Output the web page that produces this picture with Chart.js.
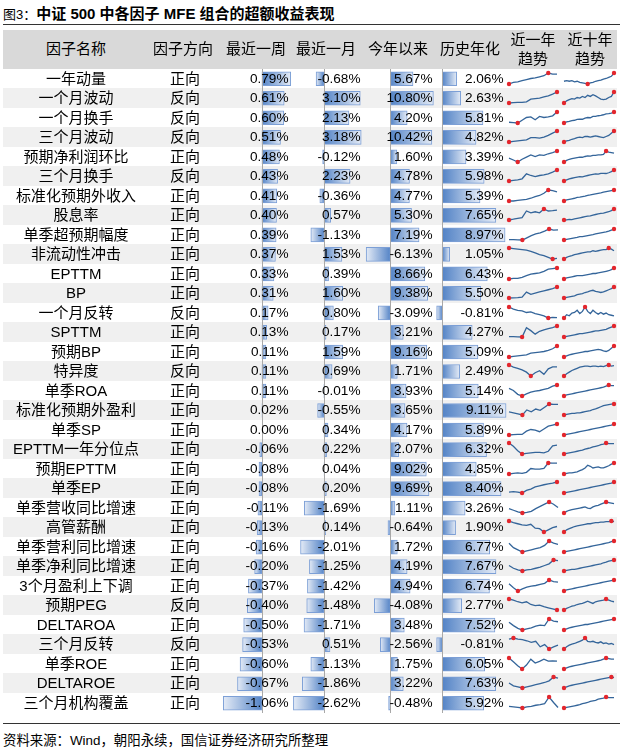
<!DOCTYPE html>
<html>
<head>
<meta charset="utf-8">
<script src="https://cdn.jsdelivr.net/npm/chart.js@4.4.1/dist/chart.umd.min.js"></script>
<style>
    body { margin: 0; width: 623px; height: 751px; position: relative; overflow: hidden; background: #fff;
           font-family: "Liberation Sans", "Noto Sans CJK SC", sans-serif; color: #000; }
    .abs { position: absolute; white-space: nowrap; }
    #title { left: 3px; top: 2px; font-size: 15px; font-weight: bold; }
    #title .no { font-size: 13px; font-weight: normal; }
    .rule { position: absolute; left: 3px; width: 617px; height: 1.5px; background: #333; }
    #header { left: 3px; top: 29.5px; width: 614px; height: 39px; background: #d9d9d9; }
    .hd { font-size: 15px; text-align: center; width: 80px; }
    .cell { font-size: 15px; }
    .num { font-size: 13.6px; text-align: right; width: 70px; }
    canvas { position: absolute; }
    #source { left: 3px; top: 729px; font-size: 13.4px; }
</style>
</head>
<body>
<div id="title" class="abs"><span class="no">图3：</span>中证 500 中各因子 MFE 组合的超额收益表现</div>
<div class="rule" style="top:23.5px"></div>
<div id="header" class="abs"></div>
<div id="rows"></div>
<div class="rule" style="top:722.5px"></div>
<div id="source" class="abs">资料来源：Wind，朝阳永续，国信证券经济研究所整理</div>

<script>
// ---- data ----
const factorNames = ['一年动量', '一个月波动', '一个月换手', '三个月波动', '预期净利润环比', '三个月换手',
    '标准化预期外收入', '股息率', '单季超预期幅度', '非流动性冲击', 'EPTTM', 'BP', '一个月反转', 'SPTTM',
    '预期BP', '特异度', '单季ROA', '标准化预期外盈利', '单季SP', 'EPTTM一年分位点', '预期EPTTM', '单季EP',
    '单季营收同比增速', '高管薪酬', '单季营利同比增速', '单季净利同比增速', '3个月盈利上下调', '预期PEG',
    'DELTAROA', '三个月反转', '单季ROE', 'DELTAROE', '三个月机构覆盖'];
const directions = ['正向', '反向', '反向', '反向', '正向', '反向', '正向', '正向', '正向', '正向', '正向', '正向',
    '反向', '正向', '正向', '反向', '正向', '正向', '正向', '正向', '正向', '正向', '正向', '正向', '正向', '正向',
    '正向', '反向', '正向', '反向', '正向', '正向', '正向'];
const lastWeek = [0.79, 0.61, 0.60, 0.51, 0.48, 0.43, 0.41, 0.40, 0.39, 0.37, 0.33, 0.31, 0.17, 0.13, 0.11, 0.11,
    0.11, 0.02, 0.00, -0.06, -0.08, -0.08, -0.11, -0.13, -0.16, -0.20, -0.37, -0.40, -0.50, -0.53, -0.60, -0.67, -1.06];
const lastMonth = [-0.68, 3.10, 2.13, 3.18, -0.12, 2.23, -0.36, 0.57, -1.13, 1.53, 0.39, 1.60, 0.80, 0.17, 1.59, 0.69,
    -0.01, -0.55, 0.34, 0.22, 0.04, 0.20, -1.69, 0.14, -2.01, -1.25, -1.42, -1.48, -1.71, 0.51, -1.13, -1.86, -2.62];
const yearToDate = [5.67, 10.80, 4.20, 10.42, 1.60, 4.78, 4.77, 5.30, 7.19, -6.13, 8.66, 9.38, -3.09, 3.21, 9.16, 1.71,
    3.93, 3.65, 4.17, 2.07, 9.02, 9.69, 1.11, -0.64, 1.72, 4.19, 4.94, -4.08, 3.48, -2.56, 1.75, 3.22, -0.48];
const annualized = [2.06, 2.63, 5.81, 4.82, 3.39, 5.98, 5.39, 7.65, 8.97, 1.05, 6.43, 5.50, -0.81, 4.27, 5.09, 2.49,
    5.14, 9.11, 5.89, 6.32, 4.85, 8.40, 3.26, 1.90, 6.77, 7.67, 6.74, 2.77, 7.52, -0.81, 6.05, 7.63, 5.92];

// sparkline shapes (relative levels)
const trendOneYear = [
    [0, 1.5, 2, 3, 4, 5, 5.5, 6.5, 7.5, 10, 9, 9],
    [0, 0.3, 0.5, 0.5, 1, 3.5, 4, 4.5, 5.5, 6.5, 8, 10],
    [0.7, 0.4, 0, 2.5, 5, 5.5, 3, 6, 5, 5.5, 6.5, 10],
    [0, 0.5, 1, 1.5, 2, 4, 4, 3.5, 4.5, 6, 8, 10],
    [3.6, 1.8, 0, 2.5, 4.5, 6.4, 5, 6.5, 6, 7.5, 8.5, 10],
    [0, 0.5, 1, 2, 6.5, 5, 4, 5, 5.5, 6.5, 8, 10],
    [0, 0, 0.5, 1, 1.5, 2.5, 4, 5, 7, 10, 9.5, 8.3],
    [0, 0.7, 1.5, 2.1, 8.2, 6.5, 7.5, 6.5, 10, 8.2, 8.5, 9],
    [0.3, 0.3, 0.2, 0, 2, 4, 5.5, 6.5, 8, 10, 9, 9.2],
    [10, 9.5, 9, 8.5, 8, 7, 5.5, 4, 3, 1.5, 0, 0.5],
    [0, 0.5, 0.5, 1.5, 3, 4.5, 5, 5.5, 7, 9, 9.5, 10],
    [0, 0.2, 0.4, 0.7, 5.3, 3.3, 4.5, 5.5, 6.5, 7.5, 8.5, 10],
    [10, 8, 7, 6.5, 5, 5.5, 4, 3, 2, 0, 0.5, 0.3],
    [0.3, 0.3, 0.2, 0, 8.4, 5.8, 2.6, 5.2, 6.5, 7.7, 8.5, 10],
    [0, 0.5, 1, 1.5, 2, 3.5, 4, 4.5, 5, 6, 7.5, 10],
    [10, 8, 7, 5.5, 3.5, 0, 3, 4.8, 1.5, 6.5, 8.3, 8.3],
    [7, 5, 1.5, 0, 2, 3.5, 4.5, 5, 6, 7, 9, 10],
    [2.8, 2, 1, 0, 4.6, 2.9, 5.4, 4.3, 7.1, 10, 9.6, 9.6],
    [0, 0.4, 0.6, 0.5, 3.5, 5, 4.5, 3, 5.5, 8, 9, 10],
    [10, 7, 3, 0, 0.5, 1, 1.5, 1.5, 1, 2.5, 7.5, 8],
    [0, 0.5, 1, 0.5, 1.5, 5, 4.5, 4.5, 5, 10, 9.8, 9.8],
    [0.7, 1.2, 0.8, 0, 2.4, 3.5, 5.5, 6.5, 7.5, 8.3, 9, 10],
    [4, 2.5, 1, 0, 0.5, 1.5, 4, 6, 8, 10, 8, 5],
    [10, 8.5, 7.5, 6.5, 6, 7, 3.5, 3, 0, 2, 4, 5],
    [8, 4, 2, 0, 1, 2, 3, 4, 6, 10, 8, 7],
    [5, 2.5, 1, 0, 1, 1.5, 2.5, 3.5, 5, 6.5, 10, 9.5],
    [6.5, 3, 0, 2, 3.5, 4.5, 5, 6, 7, 10, 8.5, 8],
    [10, 9, 7.5, 6.5, 7.5, 5, 4, 4.5, 3, 2, 1, 0],
    [7, 4, 1.5, 0, 1, 2, 3.5, 4.5, 4, 10, 8, 7.5],
    [9, 10, 9, 8.5, 7.5, 6, 7, 2, 4, 0, 2, 3.5],
    [10, 6.5, 3, 0, 3.6, 8.9, 5.4, 7, 8.9, 7.1, 7.3, 7.1],
    [4.5, 2, 1, 0, 1, 2, 3, 4, 5, 6.5, 10, 9],
    [1.5, 1, 0.5, 0, 1, 1.5, 2.5, 3, 4, 10, 5, 0.5]
];
const trendTenYear = [
    [2.5, 3, 2.5, 3, 2, 2.5, 1.5, 1, 0.5, 0, 1, 1.5, 2.5, 3, 3.5, 4.5, 5, 6, 7, 10],
    [0, 2, 3, 4, 3.5, 5, 4.5, 6, 5, 7, 6, 7.5, 6.5, 5, 3.5, 3, 3.5, 5, 6, 10],
    [0, 1, 1.5, 2.2, 2.5, 3.2, 3.5, 3.4, 4.5, 5, 4.8, 6, 6, 6.6, 7, 7.5, 8.2, 8.5, 9, 10],
    [0, 1, 1.5, 2.5, 3, 4, 4.5, 4, 5, 5, 4.5, 5, 5.5, 5, 4.5, 4, 5, 6, 8, 10],
    [0, 1.5, 2.5, 3, 3.5, 4, 4.5, 4.3, 5, 5.5, 5.3, 6, 6, 6.5, 6.4, 7, 10, 9, 8.5, 8],
    [0, 1, 2, 2.5, 3, 3.5, 4, 3.8, 4.5, 5, 5.5, 6, 6.5, 6.3, 7, 7, 6.8, 7.5, 8.5, 10],
    [0, 1, 1.5, 2, 2.5, 3.2, 3.5, 4, 4.5, 5.2, 5.5, 6, 6.5, 7, 7.3, 8, 8.5, 9, 9.5, 10],
    [0, 0.2, 0.5, 0.4, 1, 1.5, 2, 2.5, 3, 3.5, 3.8, 4.5, 5, 5.5, 6, 6.3, 7, 7.5, 8.5, 10],
    [0, 0.5, 1, 1.5, 2, 2.3, 3, 3, 3.5, 4, 4.5, 4.8, 5.5, 6, 6.5, 7, 7.3, 8, 9, 10],
    [0, 1.5, 2.5, 3, 4, 4.5, 5, 5.5, 6, 6.5, 6.5, 7.5, 7, 7.5, 8, 8.5, 8.5, 10, 9, 7.5],
    [0, 1, 1.5, 2, 2.5, 3, 3, 3, 3.5, 4, 4.5, 5, 5, 5.5, 6, 6.5, 7, 7.5, 8.5, 10],
    [0, 0.5, 1, 1.5, 2, 3, 3.5, 4, 5, 5.5, 6.5, 7, 6, 5.5, 5, 5.5, 6.5, 7.5, 8.5, 10],
    [0, 3, 2, 4.5, 5, 7, 4, 6, 10, 6, 4, 7, 5, 3.5, 5, 3.5, 4.5, 3, 2.5, 2],
    [0, 0.5, 1, 1.5, 2, 2.5, 3, 3, 3.5, 4, 4.5, 5, 5.5, 5.5, 6, 6.5, 7, 8, 9, 10],
    [0, 1, 2, 2.5, 3, 3.5, 4, 4.5, 5, 5, 5.5, 6, 6.5, 7, 6.5, 5.5, 5, 6, 8, 10],
    [0, 2, 3.5, 5, 6, 7, 8, 8.5, 9, 9, 8.5, 9, 9, 8.5, 9, 8.5, 9.5, 10, 9, 9.5],
    [0, 1, 1.5, 2, 2.5, 3, 3.5, 4, 4.5, 5, 5.5, 6, 6.5, 7, 7.5, 8, 9, 10, 9.5, 9.5],
    [0, 0.5, 1, 1.5, 1.5, 2, 2, 2.5, 3, 3.5, 4, 5, 5.5, 6.5, 7.5, 8.5, 9, 9.5, 9.8, 10],
    [0, 0.5, 1, 1.5, 2, 2.5, 3, 3.5, 4, 4.5, 5, 5.5, 6, 6.5, 7, 7.5, 8, 8.5, 9, 10],
    [0, 0.5, 1, 1.5, 2, 2.5, 3, 3.5, 4.5, 5, 5.5, 6.5, 7, 7.5, 8.5, 9, 10, 9.5, 9.5, 9.5],
    [0, 0.5, 1, 1, 1.5, 2, 3, 4, 5.5, 8, 7, 5.5, 6, 6.5, 5.5, 5.5, 6.5, 7.5, 9, 10],
    [0, 0.5, 1, 1.5, 2, 2.5, 3, 3.5, 4, 4.5, 5, 5.5, 6, 6.5, 7, 7.5, 8, 8.5, 9, 10],
    [0, 1.5, 2.5, 3, 3.5, 4, 4.5, 5, 5.5, 4.5, 4, 5.5, 6.5, 7, 8, 9, 10, 9.5, 9, 8.5],
    [0, 2, 3, 4, 5, 5.5, 6, 6.5, 7, 7.5, 7.5, 8, 8.5, 8.5, 9, 9, 9.5, 9.5, 10, 9.5],
    [0, 0.5, 1, 1.5, 2, 2.5, 3, 3.5, 4, 4.5, 5, 5.5, 6, 6.5, 7, 7.5, 8, 8.5, 9.5, 10],
    [0, 0.5, 1, 1.5, 1.5, 2, 2.5, 3, 3.5, 4, 4.5, 5, 5.5, 6, 6.5, 7.5, 8, 9, 9.5, 10],
    [0, 1, 1.5, 2, 2.5, 3, 3.5, 4, 4.5, 5, 5.5, 6, 6.5, 7, 7.5, 8, 8.5, 9, 9.5, 10],
    [0, 1.5, 2.5, 3.5, 4, 5, 5.5, 6, 7, 8, 7, 6, 7.5, 8, 8.5, 9, 10, 9, 8, 7.5],
    [0, 1, 2, 2.5, 3, 3.5, 4, 4.5, 5, 5, 5.5, 6, 6.5, 7, 7.5, 8, 8.5, 9, 9.5, 10],
    [0, 2, 3.5, 4.5, 5, 6, 7, 8, 10, 7, 6.5, 7, 6, 5.5, 6.5, 5, 5.5, 4.5, 5, 4],
    [0, 1, 2, 2.5, 3, 3.5, 4, 4.5, 5, 5.5, 6, 6.5, 7, 7.5, 8, 9, 10, 9.5, 9, 9],
    [0, 1, 2, 2.5, 3, 3.5, 4, 4.5, 5, 5.5, 6, 6.5, 7, 7.5, 8, 8.5, 9, 9.5, 10, 9.5],
    [0, 0.5, 1, 1.5, 2, 2.5, 3, 4, 4.5, 5, 6, 6.5, 7, 8, 8.5, 9, 10, 9.5, 9.5, 9.5]
];

const headerLabels = ['因子名称', '因子方向', '最近一周', '最近一月', '今年以来', '历史年化', '近一年<br>趋势', '近十年<br>趋势'];

// ---- layout ----
const ROW_TOP = 68.5;
const ROW_H = 19.5;
const HEADER_X = [76, 183, 256, 326, 398, 470, 533, 590];

// numeric columns: canvas left, width, axis range, text right edge
const numCols = [
    { values: lastWeek,   left: 220, width: 74, min: -1.15, max: 0.88, right: 288.5 },
    { values: lastMonth,  left: 292, width: 74, min: -2.74, max: 3.59, right: 360.5 },
    { values: yearToDate, left: 364, width: 74, min: -6.67, max: 11.96, right: 432.5 },
    { values: annualized, left: 436, width: 74, min: -0.9,  max: 9.67, right: 503.5 }
];

const BAR_DARK = '#5383c6';
const BAR_LIGHT = '#e4ebf6';
const BAR_BORDER = '#7c9fd6';
const SPARK_LINE = '#34659a';
const SPARK_DOT = '#e3262d';

const rowsEl = document.getElementById('rows');

function addDiv(cls, html, style) {
    const d = document.createElement('div');
    d.className = 'abs ' + cls;
    d.innerHTML = html;
    Object.assign(d.style, style);
    rowsEl.appendChild(d);
    return d;
}

// header labels
headerLabels.forEach((h, i) => {
    const twoLine = h.includes('<br>');
    addDiv('hd', h, {
        left: (HEADER_X[i] - 40) + 'px', top: twoLine ? '29.5px' : '39px',
        lineHeight: twoLine ? '19.5px' : '20px', zIndex: 3
    });
});

// row backgrounds + text
factorNames.forEach((name, i) => {
    const top = ROW_TOP + i * ROW_H;
    addDiv('', '', { left: '3px', top: top + 'px', width: '614px', height: ROW_H + 'px',
        background: i % 2 ? '#f0f0f0' : '#ffffff' });
    addDiv('cell', name, { left: '6px', width: '140px', textAlign: 'center', top: top + 'px',
        lineHeight: ROW_H + 'px', zIndex: 3 });
    addDiv('cell', directions[i], { left: '145px', width: '80px', textAlign: 'center', top: top + 'px',
        lineHeight: ROW_H + 'px', zIndex: 3 });
    numCols.forEach(col => {
        addDiv('num', col.values[i].toFixed(2) + '%', { left: (col.right - 70) + 'px', top: top + 'px',
            lineHeight: ROW_H + 'px', zIndex: 3 });
    });
});

// zero axis line for the data bars
const zeroLine = {
    id: 'zeroLine',
    afterDatasetsDraw(chart) {
        const x = Math.round(chart.scales.x.getPixelForValue(0)) + 0.5;
        const c = chart.ctx;
        c.save();
        c.strokeStyle = '#a8a8a8';
        c.lineWidth = 1;
        c.beginPath();
        c.moveTo(x, chart.chartArea.top);
        c.lineTo(x, chart.chartArea.bottom);
        c.stroke();
        c.restore();
    }
};

function barGradient(ctx) {
    const chart = ctx.chart;
    const xs = chart.scales.x;
    if (ctx.type !== 'data' || !xs) return BAR_DARK;
    const x0 = xs.getPixelForValue(0);
    const x1 = xs.getPixelForValue(ctx.raw);
    if (!isFinite(x0) || !isFinite(x1) || Math.abs(x1 - x0) < 0.5) return BAR_DARK;
    const g = chart.ctx.createLinearGradient(x0, 0, x1, 0);
    g.addColorStop(0, BAR_DARK);
    g.addColorStop(1, BAR_LIGHT);
    return g;
}

function makeCanvas(left, top, w, h) {
    const cv = document.createElement('canvas');
    cv.width = w;
    cv.height = h;
    cv.style.left = left + 'px';
    cv.style.top = top + 'px';
    cv.style.width = w + 'px';
    cv.style.height = h + 'px';
    cv.style.zIndex = 2;
    document.body.appendChild(cv);
    return cv;
}

numCols.forEach(col => {
    const cv = makeCanvas(col.left, ROW_TOP, col.width, Math.round(ROW_H * factorNames.length));
    new Chart(cv, {
        type: 'bar',
        data: {
            labels: factorNames,
            datasets: [{
                data: col.values,
                backgroundColor: barGradient,
                borderColor: BAR_BORDER,
                borderWidth: 1,
                borderSkipped: false,
                barThickness: 14
            }]
        },
        options: {
            indexAxis: 'y',
            responsive: false,
            animation: false,
            devicePixelRatio: 1,
            events: [],
            layout: { padding: 0 },
            plugins: { legend: { display: false }, tooltip: { enabled: false } },
            scales: {
                x: { display: false, min: col.min, max: col.max },
                y: { display: false }
            }
        },
        plugins: [zeroLine]
    });
});

// sparklines with red markers on the high and low points
function sparkline(values, left, top, w, padL, padR) {
    const cv = makeCanvas(left, top, w, 20);
    const hi = values.indexOf(Math.max(...values));
    const lo = values.indexOf(Math.min(...values));
    new Chart(cv, {
        type: 'line',
        data: {
            labels: values.map((_, k) => k),
            datasets: [{
                data: values,
                borderColor: SPARK_LINE,
                borderWidth: 1.3,
                tension: 0,
                pointRadius: c => (c.dataIndex === hi || c.dataIndex === lo) ? 2.2 : 0,
                pointBackgroundColor: SPARK_DOT,
                pointBorderColor: SPARK_DOT,
                pointBorderWidth: 0,
                clip: false
            }]
        },
        options: {
            responsive: false,
            animation: false,
            devicePixelRatio: 1,
            events: [],
            layout: { padding: { top: 4, bottom: 5, left: padL, right: padR } },
            plugins: { legend: { display: false }, tooltip: { enabled: false } },
            scales: { x: { display: false }, y: { display: false } }
        }
    });
}

factorNames.forEach((_, i) => {
    const top = ROW_TOP + i * ROW_H;
    sparkline(trendOneYear[i], 505, top, 56, 4, 3);
    sparkline(trendTenYear[i], 560, top, 58, 3, 3);
});
</script>
</body>
</html>
